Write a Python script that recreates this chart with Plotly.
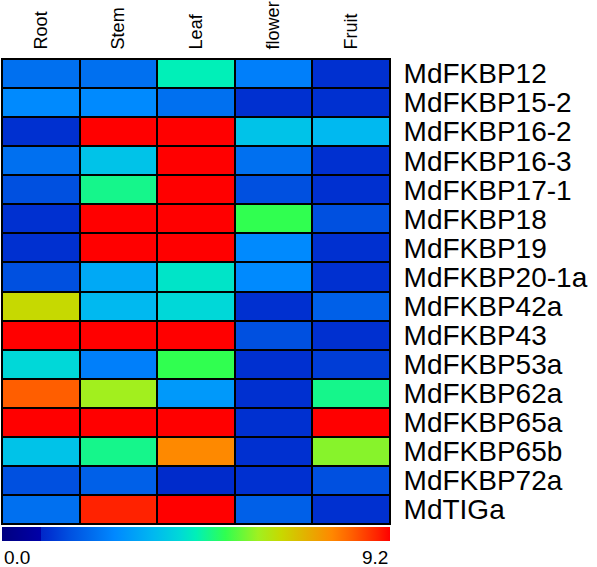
import plotly.graph_objects as go

tissues = ["Root", "Stem", "Leaf", "flower", "Fruit"]
genes = ["MdFKBP12", "MdFKBP15-2", "MdFKBP16-2", "MdFKBP16-3", "MdFKBP17-1",
         "MdFKBP18", "MdFKBP19", "MdFKBP20-1a", "MdFKBP42a", "MdFKBP43",
         "MdFKBP53a", "MdFKBP62a", "MdFKBP65a", "MdFKBP65b", "MdFKBP72a", "MdTIGa"]

root   = [2.2, 2.7, 1.1, 2.2, 1.6, 1.1, 1.1, 1.6, 6.6, 9.2, 4.2, 8.3, 9.2, 3.8, 1.6, 2.2]
stem   = [2.2, 2.7, 9.2, 3.8, 4.9, 9.2, 9.2, 3.3, 3.6, 9.2, 2.5, 6.1, 9.2, 4.9, 1.9, 8.9]
leaf   = [4.6, 2.2, 9.2, 9.2, 9.2, 9.2, 9.2, 4.4, 4.2, 9.2, 5.3, 3.0, 9.2, 7.8, 1.0, 9.2]
flower = [2.5, 1.1, 3.8, 2.2, 1.6, 5.3, 2.7, 2.7, 1.1, 1.6, 1.1, 1.1, 1.1, 1.1, 1.1, 1.9]
fruit  = [1.1, 1.1, 3.6, 1.1, 1.1, 1.6, 1.1, 1.1, 1.9, 1.1, 1.3, 4.9, 9.2, 5.9, 1.6, 1.1]

zmin, zmax = 0.0, 9.2
cbar_labels = ["0.0", "9.2"]

z = [list(r) for r in zip(root, stem, leaf, flower, fruit)]

colorscale = [
    [0.0, "#000080"], [0.10, "#0000a8"], [0.101, "#0028c8"], [0.12, "#0030d0"],
    [0.174, "#0050e0"], [0.24, "#0070f0"], [0.29, "#0088ff"], [0.39, "#00b8f0"],
    [0.457, "#00d8d8"], [0.5, "#00f0b8"], [0.576, "#30ff50"], [0.66, "#a0f020"],
    [0.72, "#c8d800"], [0.85, "#ff8800"], [0.9, "#ff6000"], [0.97, "#ff2000"],
    [1.0, "#ff0000"],
]

fig = go.Figure(go.Heatmap(
    z=z, x=tissues, y=genes, zmin=zmin, zmax=zmax,
    colorscale=colorscale, xgap=2, ygap=2,
    colorbar=dict(orientation="h", x=0.5, xanchor="center", y=-0.006, yanchor="top",
                  len=1, lenmode="fraction", thickness=14, xpad=0, ypad=0,
                  outlinewidth=0, showticklabels=False, ticks=""),
))

fig.update_layout(
    width=597, height=567,
    margin=dict(l=2, r=207, t=59, b=43, autoexpand=False),
    paper_bgcolor="white", plot_bgcolor="black",
    font=dict(family="Liberation Sans, Arial, sans-serif", color="black"),
    xaxis=dict(side="top", tickangle=-90, tickfont=dict(size=18), showgrid=False,
               zeroline=False, ticks="", ticklabelstandoff=5, automargin=False,
               tickmode="array", tickvals=tissues,
               showline=True, mirror=True, linecolor="black", linewidth=1),
    yaxis=dict(side="right", autorange="reversed", tickfont=dict(size=28), showgrid=False,
               zeroline=False, ticks="", ticklabelstandoff=7, automargin=False,
               tickmode="array", tickvals=genes,
               showline=True, mirror=True, linecolor="black", linewidth=1),
)

fig.add_annotation(x=0, y=-0.045, xref="paper", yref="paper", text=cbar_labels[0],
                   showarrow=False, xanchor="left", yanchor="top", font=dict(size=19))
fig.add_annotation(x=1, y=-0.045, xref="paper", yref="paper", text=cbar_labels[1],
                   showarrow=False, xanchor="right", yanchor="top", font=dict(size=19))

fig.write_html("out.html", config={"displayModeBar": False},
               post_script="document.body.style.margin='0';document.body.style.overflow='hidden';")
